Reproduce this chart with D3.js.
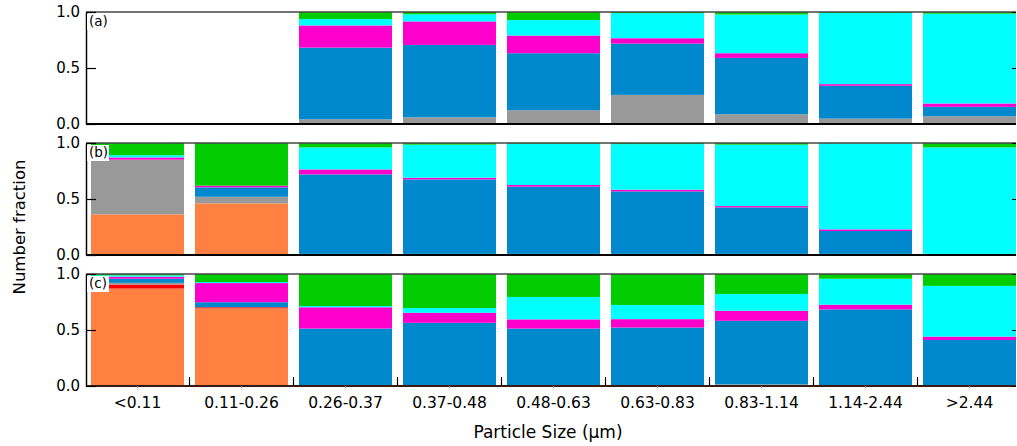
<!DOCTYPE html>
<html>
<head>
<meta charset="utf-8">
<script src="https://cdn.jsdelivr.net/npm/d3@7"></script>
<style>
  html, body { margin: 0; padding: 0; background: #fff; }
  svg { display: block; font-family: "DejaVu Sans", "Lucida Grande", sans-serif; }
</style>
</head>
<body>
<svg id="chart" width="1017" height="446"></svg>
<script>
// ---------- DATA ----------
const categories = ["<0.11", "0.11-0.26", "0.26-0.37", "0.37-0.48", "0.48-0.63", "0.63-0.83", "0.83-1.14", "1.14-2.44", ">2.44"];
const seriesNames = ["orange", "red", "gray", "blue", "magenta", "cyan", "green"];
const seriesColors = ["#FF8040", "#FF0000", "#999999", "#0088CC", "#FF00CC", "#00FFFF", "#00CC00"];
const panelLabels = ["(a)", "(b)", "(c)"];
const yTicks = [0, 0.5, 1.0];

// panel (a)
const aOrange  = [0, 0, 0, 0, 0, 0, 0, 0, 0];
const aRed     = [0, 0, 0, 0, 0, 0, 0, 0, 0];
const aGray    = [0, 0, 0.042, 0.060, 0.123, 0.260, 0.087, 0.048, 0.069];
const aBlue    = [0, 0, 0.640, 0.646, 0.509, 0.458, 0.503, 0.293, 0.084];
const aMagenta = [0, 0, 0.198, 0.210, 0.158, 0.048, 0.042, 0.015, 0.030];
const aCyan    = [0, 0, 0.057, 0.064, 0.138, 0.224, 0.346, 0.635, 0.802];
const aGreen   = [0, 0, 0.063, 0.020, 0.072, 0.010, 0.022, 0.009, 0.015];

// panel (b)
const bOrange  = [0.363, 0.461, 0.010, 0.010, 0.010, 0.010, 0.010, 0.010, 0.010];
const bRed     = [0, 0, 0, 0, 0, 0, 0, 0, 0];
const bGray    = [0.488, 0.059, 0, 0, 0, 0, 0, 0, 0];
const bBlue    = [0, 0.084, 0.710, 0.665, 0.600, 0.558, 0.415, 0.204, 0];
const bMagenta = [0.020, 0.015, 0.044, 0.015, 0.015, 0.015, 0.012, 0.015, 0];
const bCyan    = [0.020, 0, 0.197, 0.295, 0.369, 0.407, 0.548, 0.768, 0.951];
const bGreen   = [0.109, 0.381, 0.039, 0.015, 0.006, 0.010, 0.015, 0.003, 0.039];

// panel (c)
const cOrange  = [0.870, 0.694, 0, 0, 0, 0, 0, 0, 0];
const cRed     = [0.036, 0.009, 0, 0, 0, 0, 0, 0, 0];
const cGray    = [0.015, 0, 0, 0, 0, 0, 0.015, 0, 0];
const cBlue    = [0.037, 0.045, 0.513, 0.564, 0.513, 0.522, 0.567, 0.684, 0.411];
const cMagenta = [0.018, 0.171, 0.190, 0.090, 0.082, 0.075, 0.090, 0.042, 0.030];
const cCyan    = [0.012, 0.009, 0.011, 0.042, 0.200, 0.126, 0.150, 0.232, 0.453];
const cGreen   = [0.012, 0.072, 0.286, 0.304, 0.205, 0.277, 0.178, 0.042, 0.106];

const panelSeries = [
  [aOrange, aRed, aGray, aBlue, aMagenta, aCyan, aGreen],
  [bOrange, bRed, bGray, bBlue, bMagenta, bCyan, bGreen],
  [cOrange, cRed, cGray, cBlue, cMagenta, cCyan, cGreen]
];

// ---------- LAYOUT ----------
const svg = d3.select("#chart");
const left = 86, right = 1016;
const panelTops = [12, 143, 274];
const panelH = 112;

const x = d3.scaleBand()
  .domain(categories)
  .range([85.5, 1021.5])
  .paddingInner(0.106)
  .paddingOuter(0.053);

const color = d3.scaleOrdinal().domain(seriesNames).range(seriesColors);

panelSeries.forEach((series, pi) => {
  const top = panelTops[pi];
  const bottom = top + panelH;
  const y = d3.scaleLinear().domain([0, 1]).range([bottom, top]);

  const rows = categories.map((c, i) => {
    const r = { cat: c };
    seriesNames.forEach((s, k) => { r[s] = series[k][i]; });
    return r;
  });
  const stacked = d3.stack().keys(seriesNames)(rows);

  const g = svg.append("g");

  g.selectAll("g.layer")
    .data(stacked)
    .join("g")
    .attr("class", "layer")
    .attr("fill", d => color(d.key))
    .selectAll("rect")
    .data(d => d.filter(v => v[1] - v[0] > 0))
    .join("rect")
    .attr("x", d => x(d.data.cat))
    .attr("width", x.bandwidth())
    .attr("y", d => y(d[1]))
    .attr("height", d => y(d[0]) - y(d[1]));

  // top border
  g.append("line")
    .attr("x1", left).attr("x2", right)
    .attr("y1", top).attr("y2", top)
    .attr("stroke", "#444").attr("stroke-width", 1.5);

  // bottom axis line
  g.append("line")
    .attr("x1", left).attr("x2", right)
    .attr("y1", bottom).attr("y2", bottom)
    .attr("stroke", pi === 2 ? "#3a1a12" : "#000").attr("stroke-width", 2);

  // left axis
  const yAxis = d3.axisLeft(y).tickValues(yTicks).tickFormat(d3.format(".1f"))
    .tickSizeInner(-10).tickSizeOuter(0).tickPadding(6);
  const ga = svg.append("g").attr("transform", `translate(${left},0)`).call(yAxis);
  ga.select(".domain").attr("stroke", "#000").attr("stroke-width", 1.5);
  ga.selectAll(".tick line").attr("stroke", "#000").attr("stroke-width", 1.2);
  ga.selectAll(".tick text").attr("font-size", 15).attr("fill", "#000")
    .attr("font-family", "DejaVu Sans");

  // right axis ticks (inward)
  const yAxisR = d3.axisRight(y).tickValues(yTicks).tickFormat("")
    .tickSizeInner(-4).tickSizeOuter(0);
  const gr = svg.append("g").attr("transform", `translate(${right},0)`).call(yAxisR);
  gr.select(".domain").remove();
  gr.selectAll(".tick line").attr("stroke", "#000");

  // panel label
  svg.append("rect").attr("x", 87).attr("y", top + 2).attr("width", 22).attr("height", 16).attr("fill", "#fff");
  svg.append("text").attr("x", 89).attr("y", top + 14)
    .attr("font-size", 13.5).attr("fill", "#000").text(panelLabels[pi]);

  if (pi === 2) {
    // boundary ticks pointing up
    const step = x.step();
    const gap = step * x.paddingInner();
    const bounds = categories.slice(1).map(c => x(c) - gap / 2);
    svg.append("g").selectAll("line").data(bounds).join("line")
      .attr("x1", d => d).attr("x2", d => d)
      .attr("y1", bottom).attr("y2", bottom - 9)
      .attr("stroke", "#000").attr("stroke-width", 1.2);

    const xAxis = d3.axisBottom(x).tickSizeInner(2).tickSizeOuter(0).tickPadding(9);
    const gx = svg.append("g").attr("transform", `translate(0,${bottom})`).call(xAxis);
    gx.select(".domain").remove();
    gx.selectAll(".tick line").attr("stroke", "#999");
    gx.selectAll(".tick text").attr("font-size", 15.5).attr("fill", "#000")
      .attr("font-family", "DejaVu Sans");
  }
});

// axis titles
svg.append("text")
  .attr("x", 548).attr("y", 438)
  .attr("text-anchor", "middle")
  .attr("font-size", 17).attr("fill", "#000")
  .text("Particle Size (μm)");

svg.append("text")
  .attr("transform", "translate(25,227) rotate(-90)")
  .attr("text-anchor", "middle")
  .attr("font-size", 16.5).attr("fill", "#000")
  .text("Number fraction");
</script>
</body>
</html>
